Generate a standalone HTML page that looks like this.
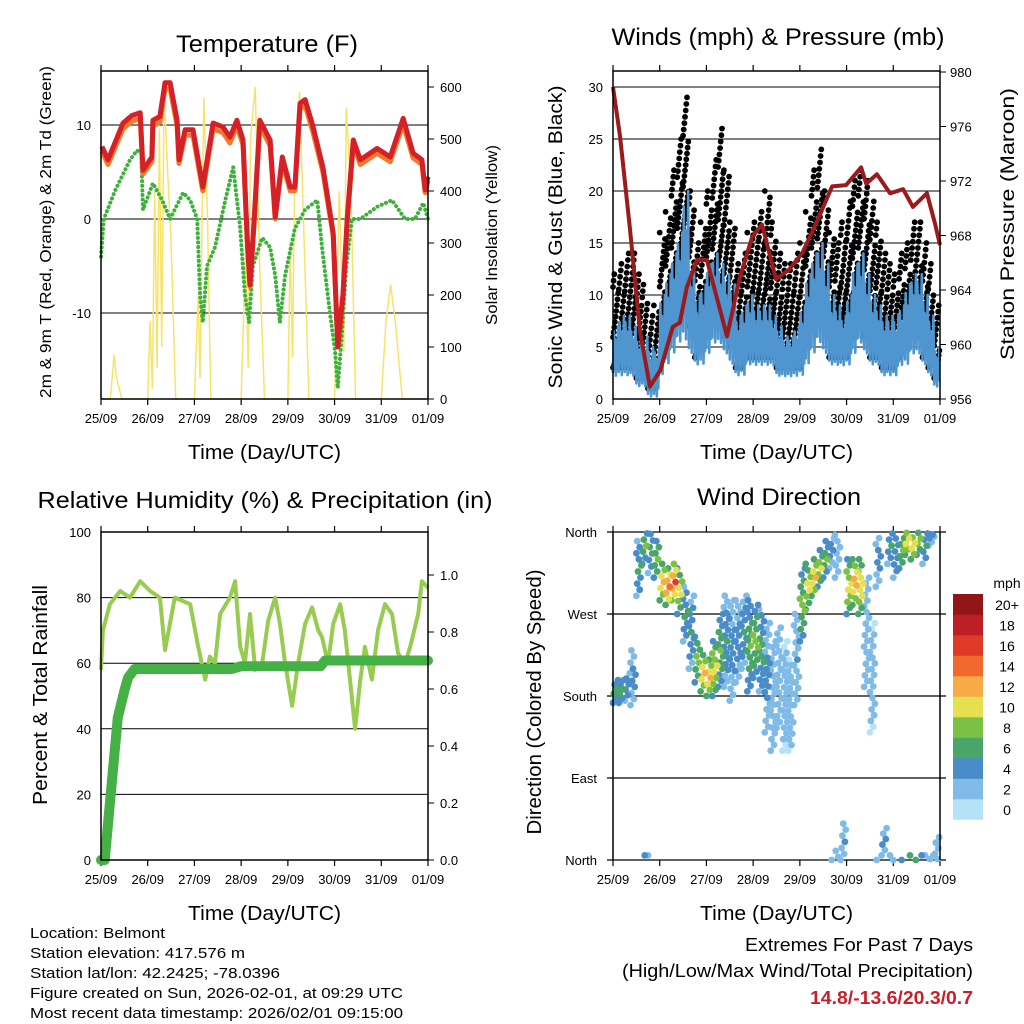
<!DOCTYPE html>
<html><head><meta charset="utf-8"><style>
html,body{margin:0;padding:0;background:#fff;}
svg{display:block;font-family:"Liberation Sans",Arial,sans-serif;}
</style></head><body>
<svg id="c" width="1024" height="1024" viewBox="0 0 1024 1024"></svg>
<script>
// ---- Temperature data (days since 25/09) ----
const tempDays=[0.02,0.15,0.47,0.66,0.84,0.90,1.09,1.11,1.26,1.37,1.48,1.63,1.67,1.80,1.97,2.18,2.40,2.61,2.76,2.91,3.04,3.13,3.19,3.28,3.40,3.62,3.73,3.88,4.05,4.15,4.26,4.37,4.54,4.75,4.97,5.07,5.18,5.27,5.40,5.55,5.91,6.19,6.47,6.68,6.87,6.94,7.0];
const temp2m=[7.7,6.3,10.2,11,11.3,5.2,6.6,10.5,10.9,14.5,14.5,10.5,6.3,9.5,9.5,3.4,10.2,9.8,8.7,10.5,8.4,-2,-7,0,10.5,8.4,0.2,6.6,3.4,3.4,12.3,12.7,9.8,5.5,-1.5,-13.6,-8,0,8.4,6.3,7.5,6.6,10.7,7,6.3,3.1,4.5];
const temp9m=[7.2,5.8,9.6,10.4,10.7,4.8,6.1,9.9,10.3,13.8,13.9,9.9,5.9,8.9,8.9,3.0,9.6,9.2,8.1,9.9,7.9,-2.3,-7.2,-0.3,9.9,7.8,0.0,6.1,3.0,3.0,11.7,12.1,9.2,5.0,-1.8,-13.4,-8.1,-0.2,7.9,5.8,7.0,6.1,10.1,6.5,5.8,2.8,4.1];
const dewDays=[0,0.06,0.30,0.62,0.77,0.86,0.90,1.11,1.31,1.48,1.76,1.91,2.06,2.12,2.18,2.27,2.44,2.66,2.83,2.98,3.08,3.17,3.25,3.45,3.62,3.73,3.83,3.94,4.15,4.37,4.63,4.73,4.90,5.01,5.07,5.16,5.25,5.37,5.55,5.91,6.23,6.51,6.72,6.90,7.0];
const dewVals=[-4,0,3,6.3,7.3,7,1,3.8,2,0,2.8,2,0,-8,-11,-5,-3,2,5.5,-1,-8,-11,-5,-2,-3,-6,-11,-6,-1,1,2,-3,-10,-14,-18,-12,-5,0,0,1.3,2,0,0,1.7,0];
const solarDays=[0,0.2,0.28,0.32,0.36,0.45,1.0,1.05,1.1,1.15,1.2,1.25,1.3,1.35,1.42,1.5,1.6,2.0,2.08,2.12,2.2,2.28,2.35,3.0,3.1,3.15,3.2,3.3,3.4,3.5,4.0,4.05,4.1,4.15,4.25,4.35,4.45,5.0,5.1,5.2,5.25,5.35,5.45,6.0,6.1,6.2,6.3,6.45,7.0];
const solarVals=[0,0,85,50,30,0,0,150,20,400,60,520,100,600,450,300,0,0,200,40,580,350,0,0,300,60,500,600,250,0,0,300,80,450,590,300,0,0,400,90,560,400,0,0,150,220,150,0,0];
const tempTicks=[-10,0,10];
const solarTicks=[0,100,200,300,400,500,600];
const dayLabels=["25/09","26/09","27/09","28/09","29/09","30/09","31/09","01/09"];
// ---- Wind data (3-hour bins) ----
const windLo=[2,2,2,2,1,1,0,0,2,3,4,5,5,4,3,3,4,5,5,4,3,2,2,3,3,3,3,3,2,2,2,2,2,3,4,5,4,3,3,3,3,4,5,4,3,3,2,2,2,3,3,4,4,3,2,1];
const windHi=[7,8,8,7,6,6,5,5,10,12,14,16,20,13,10,11,13,14,13,12,11,8,9,10,9,9,9,8,7,6,6,7,9,12,14,15,13,10,9,8,10,13,14,12,10,9,8,8,8,9,11,12,12,10,8,5];
const gustHi=[12,13,14,14,12,11,8,9,16,18,22,25,29,20,15,17,20,23,26,22,17,13,14,16,17,18,20,17,14,13,13,14,15,18,22,24,20,16,15,17,19,21,22,21,19,17,14,13,12,14,15,17,17,15,13,9];
const presDays=[0,0.15,0.36,0.58,0.79,1.01,1.28,1.43,1.58,1.80,2.01,2.44,2.72,2.98,3.19,3.49,3.77,4.05,4.35,4.69,4.99,5.31,5.42,5.65,5.93,6.21,6.42,6.72,6.89,7.0];
const presVals=[978.9,975.3,968.6,960.9,956.9,958.1,961.3,961.6,964.2,966.2,966.2,960.6,965,967.9,968.8,964.8,965.5,966.7,968.9,971.6,971.7,973,971.8,972.5,971.1,971.4,970.1,971.1,968.9,967.3];
const windTicks=[0,5,10,15,20,25,30];
const presTicks=[956,960,964,968,972,976,980];
// ---- RH / precip ----
const rhDays=[0,0.04,0.19,0.41,0.62,0.84,1.05,1.26,1.37,1.58,1.91,2.08,2.23,2.33,2.44,2.55,2.76,2.87,2.98,3.08,3.19,3.30,3.45,3.58,3.73,3.83,3.94,4.09,4.22,4.37,4.52,4.65,4.73,4.86,4.97,5.12,5.22,5.33,5.44,5.55,5.65,5.80,5.93,6.08,6.23,6.36,6.51,6.62,6.79,6.87,7.0];
const rhVals=[58,70,78,82,80,85,82,80,64,80,78,65,55,62,60,75,80,85,65,60,75,58,60,73,80,72,60,47,60,72,77,70,68,60,72,78,70,55,40,55,65,55,70,78,75,63,60,65,75,85,83];
const precipDays=[0,0.08,0.19,0.36,0.51,0.58,0.72,2.8,3.0,4.7,4.8,7.0];
const precipVals=[0,0,0.2,0.5,0.6,0.64,0.67,0.67,0.68,0.68,0.70,0.70];
const rhTicks=[0,20,40,60,80,100];
const precipTicks=[0,0.2,0.4,0.6,0.8,1.0];
// ---- Wind direction (3-hour bins) ----
const dirCenter=[185,185,190,200,320,345,340,330,305,300,305,295,270,250,220,205,200,210,230,240,230,240,250,235,240,230,200,180,200,180,170,220,280,300,310,320,330,340,340,20,300,305,300,250,200,330,20,345,335,340,350,345,350,345,355,10];
const dirSpread=[25,25,30,60,60,40,50,40,40,40,40,50,60,80,50,40,40,60,80,100,110,90,80,100,80,90,120,120,110,120,100,100,80,50,40,40,40,40,60,40,60,50,60,120,120,60,30,40,50,40,30,30,30,40,20,30];
const dirSpeed=[6,6,5,4,6,7,6,8,12,14,15,10,6,5,9,11,12,10,7,5,4,4,5,7,8,6,4,3,3,2,2,3,8,11,12,10,7,4,3,3,10,13,11,3,2,4,4,6,5,8,10,11,9,5,4,3];
const dirTicks=["North","East","South","West","North"];
const speedLevels=["0","2","4","6","8","10","12","14","16","18","20+"];
const speedColors=["#b5e2f7","#7fbbe6","#4a8cc7","#4aa56a","#7cc143","#e5e050","#f6ab45","#ef6a2c","#df3a27","#be1f24","#921618"];

const NS="http://www.w3.org/2000/svg";
const svg=document.getElementById('c');
function el(tag,attrs,parent){const e=document.createElementNS(NS,tag);for(const k in attrs)e.setAttribute(k,attrs[k]);(parent||svg).appendChild(e);return e;}
function txt(s,attrs,name,parent){const e=el('text',attrs,parent);e.textContent=s;


return e;}
function ftxt(s,attrs,len,name,parent){attrs.textLength=len;attrs.lengthAdjust='spacingAndGlyphs';return txt(s,attrs,name,parent);}
function lin(d0,d1,r0,r1){return v=>r0+(v-d0)/(d1-d0)*(r1-r0);}
function pathOf(xs,ys,sx,sy){return xs.map((x,i)=>(i?'L':'M')+sx(x).toFixed(1)+' '+sy(ys[i]).toFixed(1)).join('');}

function frame(name){
  const g=el('g',{});
  
  
  return g;
}
function box(g,x0,y0,w,h){el('rect',{x:x0,y:y0,width:w,height:h,fill:'none',stroke:'#000','stroke-width':1.5},g);}
function xAxis(g,x0,y0,w,h){
  const sx=lin(0,7,x0,x0+w);
  for(let i=0;i<8;i++){const x=sx(i);
    el('line',{x1:x,x2:x,y1:y0+h,y2:y0+h+6,stroke:'#000','stroke-width':1.2},g);
    el('line',{x1:x,x2:x,y1:y0,y2:y0-6,stroke:'#000','stroke-width':1.2},g);
    txt(dayLabels[i],{x:x,y:y0+h+24,'font-size':13,'text-anchor':'middle'},'x-tick-label',g);}
  ftxt('Time (Day/UTC)',{x:x0+w/2,y:y0+h+60,'font-size':20,'text-anchor':'middle'},153,'x-axis-title',g);
  return sx;
}

// ===== Panel 1: Temperature =====
(function(){
  const x0=101,y0=71,w=327,h=328;
  const g=frame('temperature-panel');
  const sx=xAxis(g,x0,y0,w,h);
  const sy=lin(0,10,219,125), sr=lin(0,600,399,87);
  tempTicks.forEach(v=>{el('line',{x1:x0,x2:x0+w,y1:sy(v),y2:sy(v),stroke:'#000','stroke-width':1},g);
    txt(String(v),{x:x0-10,y:sy(v)+5,'font-size':13,'text-anchor':'end'},'temp-tick-label',g);});
  solarTicks.forEach(v=>{el('line',{x1:x0+w,x2:x0+w+6,y1:sr(v),y2:sr(v),stroke:'#000'},g);
    txt(String(v),{x:x0+w+12,y:sr(v)+5,'font-size':13},'solar-tick-label',g);});
  const s=el('path',{d:pathOf(solarDays,solarVals,sx,sr),fill:'none',stroke:'#f7e36a','stroke-width':1.5},g);
  
  
  const d=el('path',{d:pathOf(dewDays,dewVals,sx,sy),fill:'none',stroke:'#3fb03c','stroke-width':4,'stroke-dasharray':'0.1 4.5','stroke-linecap':'round'},g);
  
  
  const o=el('path',{d:pathOf(tempDays,temp9m,sx,sy),fill:'none',stroke:'#f07a2a','stroke-width':5,'stroke-linejoin':'round'},g);
  
  
  const r=el('path',{d:pathOf(tempDays,temp2m,sx,sy),fill:'none',stroke:'#d42026','stroke-width':5,'stroke-linejoin':'round'},g);
  
  
  box(g,x0,y0,w,h);
  ftxt('Temperature (F)',{x:267,y:52,'font-size':24,'text-anchor':'middle'},182,'temperature-title',g);
  ftxt('2m & 9m T (Red, Orange) & 2m Td (Green)',{x:0,y:0,'font-size':16,'text-anchor':'middle',transform:'translate(51,232) rotate(-90)'},332,'temp-y-axis-title',g);
  ftxt('Solar Insolation (Yellow)',{x:0,y:0,'font-size':16,'text-anchor':'middle',transform:'translate(497,235) rotate(-90)'},180,'solar-y-axis-title',g);
})();

// ===== Panel 2: Winds =====
(function(){
  const x0=613,y0=71,w=327,h=328;
  const g=frame('winds-panel');
  const sx=xAxis(g,x0,y0,w,h);
  const sy=lin(0,30,399,87), sp=lin(956,980,399,72);
  windTicks.forEach(v=>{el('line',{x1:x0,x2:x0+w,y1:sy(v),y2:sy(v),stroke:'#000','stroke-width':1},g);
    txt(String(v),{x:x0-10,y:sy(v)+5,'font-size':13,'text-anchor':'end'},'wind-tick-label',g);});
  presTicks.forEach(v=>{el('line',{x1:x0+w,x2:x0+w+6,y1:sp(v),y2:sp(v),stroke:'#000'},g);
    txt(String(v),{x:x0+w+10,y:sp(v)+5,'font-size':13},'pressure-tick-label',g);});
  const n=windLo.length, bw=7/n;
  for(let i=0;i<n;i++){
    const xa=sx(i*bw), xb=sx((i+1)*bw);
    const top=gustHi[i], bot=Math.max(windLo[i]+1,windHi[i]-6);
    const steps=Math.max(3,Math.round((top-bot)/0.45));
    for(let k=0;k<=steps;k++){
      const v=bot+(top-bot)*Math.pow(k/steps,1.4);
      const xx=xa+((k*37)%9)/9*(xb-xa);
      const c=el('circle',{cx:xx.toFixed(1),cy:sy(v).toFixed(1),r:2.9,fill:'#000'},g);
      
      
    }
  }
  let dz='';
  for(let i=0;i<n;i++){
    const xa=sx(i*bw), xb=sx((i+1)*bw);
    const m=8;
    for(let k=0;k<m;k++){
      const xx=xa+(xb-xa)*k/m;
      const frac=[0.1,0.9,0.3,0.75,0.05,0.6,0.2,1][k];
      const v=windLo[i]+(windHi[i]-windLo[i])*frac;
      dz+=(dz?'L':'M')+xx.toFixed(1)+' '+sy(v).toFixed(1);
    }
  }
  const bl=el('path',{d:dz,fill:'none',stroke:'#4f95d0','stroke-width':2.6,'stroke-linejoin':'round'},g);
  
  
  const p=el('path',{d:pathOf(presDays,presVals,sx,sp),fill:'none',stroke:'#9b1a1c','stroke-width':4,'stroke-linejoin':'round'},g);
  
  
  box(g,x0,y0,w,h);
  ftxt('Winds (mph) & Pressure (mb)',{x:778,y:45,'font-size':24,'text-anchor':'middle'},333,'winds-title',g);
  ftxt('Sonic Wind & Gust (Blue, Black)',{x:0,y:0,'font-size':19,'text-anchor':'middle',transform:'translate(562,237) rotate(-90)'},303,'wind-y-axis-title',g);
  ftxt('Station Pressure (Maroon)',{x:0,y:0,'font-size':19,'text-anchor':'middle',transform:'translate(1014,224) rotate(-90)'},272,'pressure-y-axis-title',g);
})();

// ===== Panel 3: RH & precip =====
(function(){
  const x0=101,y0=532,w=327,h=328;
  const g=frame('humidity-panel');
  const sx=xAxis(g,x0,y0,w,h);
  const sy=lin(0,100,860,532), sr=lin(0,1,860,575);
  rhTicks.forEach(v=>{ if(v>0&&v<100) el('line',{x1:x0,x2:x0+w,y1:sy(v),y2:sy(v),stroke:'#000','stroke-width':1},g);
    txt(String(v),{x:x0-10,y:sy(v)+5,'font-size':13,'text-anchor':'end'},'rh-tick-label',g);});
  precipTicks.forEach(v=>{el('line',{x1:x0+w,x2:x0+w+6,y1:sr(v),y2:sr(v),stroke:'#000'},g);
    txt(v.toFixed(1),{x:x0+w+12,y:sr(v)+5,'font-size':13},'precip-tick-label',g);});
  const r=el('path',{d:pathOf(rhDays,rhVals,sx,sy),fill:'none',stroke:'#98cc50','stroke-width':4,'stroke-linejoin':'round'},g);
  
  
  const p=el('path',{d:pathOf(precipDays,precipVals,sx,sr),fill:'none',stroke:'#45b045','stroke-width':10,'stroke-linejoin':'round','stroke-linecap':'round'},g);
  
  
  box(g,x0,y0,w,h);
  ftxt('Relative Humidity (%) & Precipitation (in)',{x:265,y:508,'font-size':23,'text-anchor':'middle'},455,'humidity-title',g);
  ftxt('Percent & Total Rainfall',{x:0,y:0,'font-size':20,'text-anchor':'middle',transform:'translate(47,695) rotate(-90)'},220,'rh-y-axis-title',g);
})();

// ===== Panel 4: Wind direction =====
(function(){
  const x0=613,y0=532,w=327,h=328;
  const g=frame('wind-direction-panel');
  const sx=xAxis(g,x0,y0,w,h);
  const sy=lin(0,360,860,532);
  dirTicks.forEach((lab,i)=>{const y=sy(i*90);
    el('line',{x1:x0-6,x2:x0+w+6,y1:y,y2:y,stroke:'#000','stroke-width':1.2},g);
    txt(lab,{x:x0-16,y:y+5,'font-size':13,'text-anchor':'end'},'direction-tick-label',g);});
  const n=dirCenter.length,bw=7/n;
  const pts=[];
  for(let i=0;i<n;i++){
    const cnt=Math.max(6,Math.round(dirSpread[i]/6));
    for(let k=0;k<cnt;k++){
      let dv=dirCenter[i]-dirSpread[i]/2+dirSpread[i]*k/(cnt-1);
      dv=((dv%360)+360)%360;
      const spdv=Math.max(0,dirSpeed[i]-Math.abs(k-(cnt-1)/2)/(cnt/2)*dirSpeed[i]*0.6);
      const ci=Math.min(10,Math.round(spdv/2));
      const xx=sx(i*bw)+((k*53)%7)/7*(sx(bw)-sx(0));
      pts.push([xx,sy(dv),ci]);
    }
  }
  pts.sort((a,b)=>a[2]-b[2]);
  pts.forEach(p=>{const c=el('circle',{cx:p[0].toFixed(1),cy:p[1].toFixed(1),r:3.4,fill:speedColors[p[2]]},g);
    
    });
  el('line',{x1:x0,x2:x0,y1:y0,y2:y0+h,stroke:'#000','stroke-width':1.5},g);
  el('line',{x1:x0+w,x2:x0+w,y1:y0,y2:y0+h,stroke:'#000','stroke-width':1.5},g);
  ftxt('Wind Direction',{x:779,y:505,'font-size':24,'text-anchor':'middle'},164,'wind-direction-title',g);
  ftxt('Direction (Colored By Speed)',{x:0,y:0,'font-size':20,'text-anchor':'middle',transform:'translate(541,702) rotate(-90)'},265,'direction-y-axis-title',g);
  const cb=el('g',{},g);
  
  
  const bh=20.5;
  for(let i=0;i<11;i++){
    const y=594+(10-i)*bh;
    const r=el('rect',{x:953,y:y,width:30,height:bh+0.3,fill:speedColors[i]},cb);
    
    
    txt(speedLevels[i],{x:1007,y:y+16,'font-size':14,'text-anchor':'middle'},'colorbar-label',cb);
  }
  txt('mph',{x:1007,y:588,'font-size':14,'text-anchor':'middle'},'colorbar-title',cb);
})();

// ===== Footer text =====
const infoLines=["Location: Belmont","Station elevation: 417.576 m","Station lat/lon: 42.2425; -78.0396","Figure created on Sun, 2026-02-01, at 09:29 UTC","Most recent data timestamp: 2026/02/01 09:15:00"];
const infoLens=[135,215,250,373,373];
infoLines.forEach((s,i)=>ftxt(s,{x:30,y:938+i*20,'font-size':15},infoLens[i],'station-info-line'));
ftxt('Extremes For Past 7 Days',{x:973,y:951,'font-size':18,'text-anchor':'end'},228,'extremes-title');
ftxt('(High/Low/Max Wind/Total Precipitation)',{x:973,y:977,'font-size':18,'text-anchor':'end'},351,'extremes-subtitle');
ftxt('14.8/-13.6/20.3/0.7',{x:973,y:1004,'font-size':18,'font-weight':'bold',fill:'#c8202a','text-anchor':'end'},163,'extremes-values');
</script>
</body></html>
